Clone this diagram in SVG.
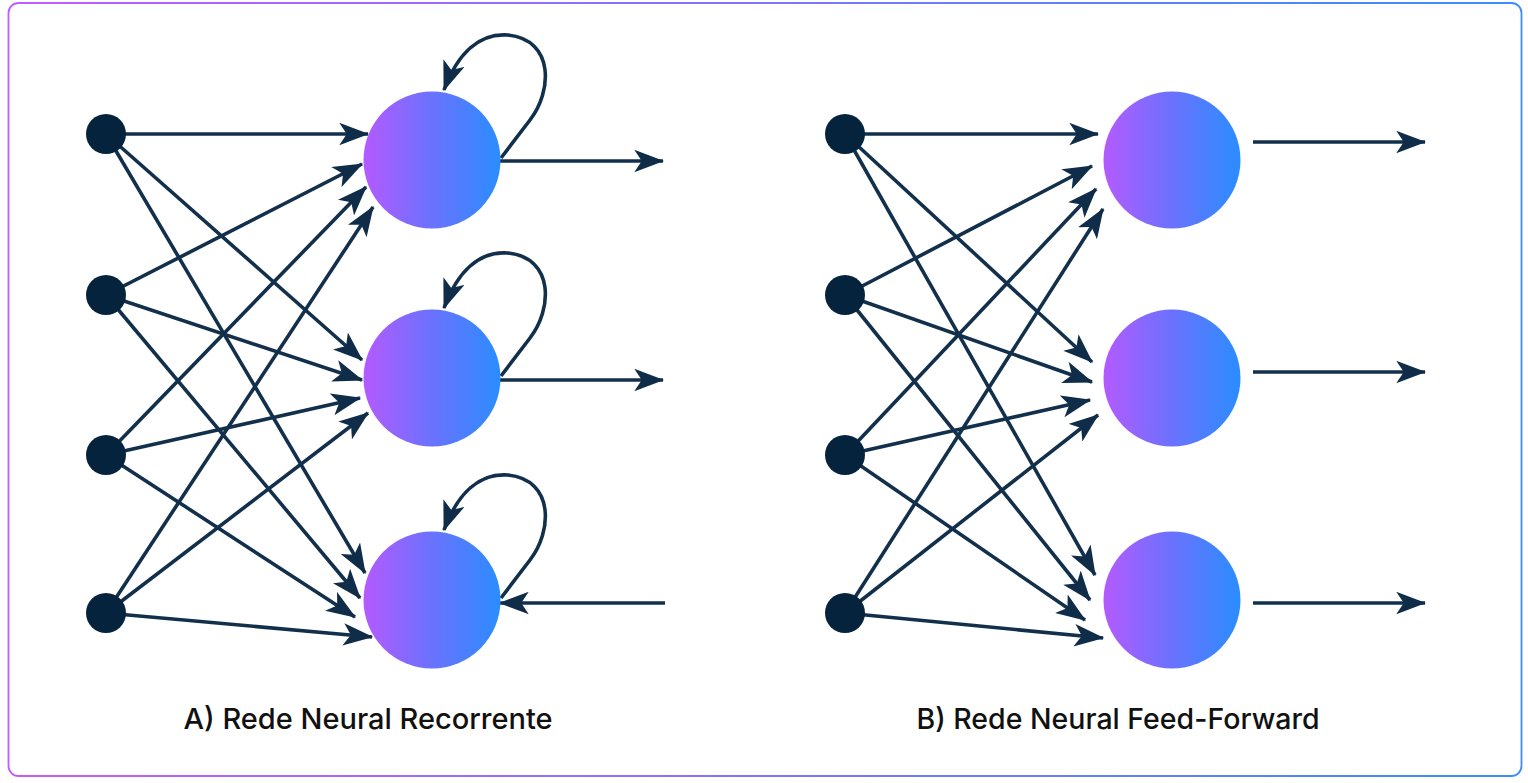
<svg xmlns="http://www.w3.org/2000/svg" width="1528" height="783" viewBox="0 0 1528 783">
  <defs>
    <linearGradient id="nodeGrad" x1="0" y1="0" x2="1" y2="0">
      <stop offset="0" stop-color="#b45aff"/>
      <stop offset="0.5" stop-color="#6a72fd"/>
      <stop offset="1" stop-color="#2a8dff"/>
    </linearGradient>
    <linearGradient id="borderGrad" x1="0" y1="0" x2="1" y2="0">
      <stop offset="0" stop-color="#c15cff"/>
      <stop offset="1" stop-color="#3a8dff"/>
    </linearGradient>
    <marker id="arrow" markerUnits="userSpaceOnUse" viewBox="0 0 24 18" markerWidth="30" markerHeight="22.5" refX="23" refY="9" orient="auto">
      <path d="M0,0 L24,9 L0,18 L6,9 z" fill="#0f2d48"/>
    </marker>
  </defs>
  <style>
    .edge { stroke: #12304b; stroke-width: 3.6; fill: none; marker-end: url(#arrow); }
    .input { fill: #06233d; }
    .hidden { fill: url(#nodeGrad); }
    .label { font-family: Inter, "Liberation Sans", sans-serif; font-size: 29px; font-weight: 500; fill: #111111; text-anchor: middle; }
  </style>

  <rect x="8.5" y="3" width="1513" height="773" rx="10" ry="10" fill="#ffffff" stroke="url(#borderGrad)" stroke-width="1.8"/>

  <g id="connectors">
    <!-- Network A: input to hidden -->
    <line class="edge" x1="106" y1="134" x2="368" y2="134"/>
    <line class="edge" x1="106" y1="295" x2="362" y2="164"/>
    <line class="edge" x1="106" y1="455" x2="366" y2="187"/>
    <line class="edge" x1="106" y1="613" x2="373" y2="207"/>
    <line class="edge" x1="106" y1="134" x2="362" y2="360"/>
    <line class="edge" x1="106" y1="295" x2="362" y2="380"/>
    <line class="edge" x1="106" y1="455" x2="360" y2="398"/>
    <line class="edge" x1="106" y1="613" x2="368" y2="413"/>
    <line class="edge" x1="106" y1="134" x2="365" y2="573"/>
    <line class="edge" x1="106" y1="295" x2="360" y2="598"/>
    <line class="edge" x1="106" y1="455" x2="355" y2="617"/>
    <line class="edge" x1="106" y1="613" x2="372" y2="637"/>
    <!-- Network A: outputs and recurrent loops -->
    <line class="edge" x1="500" y1="161" x2="663" y2="161"/>
    <line class="edge" x1="500" y1="380" x2="663" y2="380"/>
    <line class="edge" x1="665" y1="603" x2="500" y2="603"/>
    <path class="edge" d="M 501 158 L 530 120 C 552 92, 555 40, 508 35 C 480 33, 458 52, 444 90"/>
    <path class="edge" d="M 501 376 L 530 338 C 552 310, 555 258, 508 253 C 480 251, 458 270, 444 308"/>
    <path class="edge" d="M 501 598 L 530 560 C 552 532, 555 480, 508 475 C 480 473, 458 492, 444 530"/>
    <!-- Network B: input to hidden -->
    <line class="edge" x1="845" y1="134" x2="1098" y2="134"/>
    <line class="edge" x1="845" y1="295" x2="1092" y2="166"/>
    <line class="edge" x1="845" y1="455" x2="1096" y2="189"/>
    <line class="edge" x1="845" y1="613" x2="1103" y2="209"/>
    <line class="edge" x1="845" y1="134" x2="1092" y2="362"/>
    <line class="edge" x1="845" y1="295" x2="1092" y2="382"/>
    <line class="edge" x1="845" y1="455" x2="1090" y2="400"/>
    <line class="edge" x1="845" y1="613" x2="1098" y2="415"/>
    <line class="edge" x1="845" y1="134" x2="1095" y2="575"/>
    <line class="edge" x1="845" y1="295" x2="1090" y2="600"/>
    <line class="edge" x1="845" y1="455" x2="1085" y2="620"/>
    <line class="edge" x1="845" y1="613" x2="1103" y2="638"/>
    <!-- Network B: outputs -->
    <line class="edge" x1="1253" y1="142" x2="1425" y2="142"/>
    <line class="edge" x1="1253" y1="372" x2="1425" y2="372"/>
    <line class="edge" x1="1253" y1="603" x2="1425" y2="603"/>
  </g>

  <g id="a-input-1"><circle class="input" cx="106" cy="134" r="20"/></g>
  <g id="a-input-2"><circle class="input" cx="106" cy="295" r="20"/></g>
  <g id="a-input-3"><circle class="input" cx="106" cy="455" r="20"/></g>
  <g id="a-input-4"><circle class="input" cx="106" cy="613" r="20"/></g>
  <g id="a-hidden-1"><circle class="hidden" cx="432" cy="160" r="68.5"/></g>
  <g id="a-hidden-2"><circle class="hidden" cx="432" cy="378" r="68.5"/></g>
  <g id="a-hidden-3"><circle class="hidden" cx="432" cy="600" r="68.5"/></g>

  <g id="b-input-1"><circle class="input" cx="845" cy="134" r="20"/></g>
  <g id="b-input-2"><circle class="input" cx="845" cy="295" r="20"/></g>
  <g id="b-input-3"><circle class="input" cx="845" cy="455" r="20"/></g>
  <g id="b-input-4"><circle class="input" cx="845" cy="613" r="20"/></g>
  <g id="b-hidden-1"><circle class="hidden" cx="1172" cy="160" r="68.5"/></g>
  <g id="b-hidden-2"><circle class="hidden" cx="1172" cy="378" r="68.5"/></g>
  <g id="b-hidden-3"><circle class="hidden" cx="1172" cy="600" r="68.5"/></g>

  <g id="label-a"><text class="label" x="368" y="729">A) Rede Neural Recorrente</text></g>
  <g id="label-b"><text class="label" x="1118" y="729" style="font-size:28.5px">B) Rede Neural Feed-Forward</text></g>
</svg>
